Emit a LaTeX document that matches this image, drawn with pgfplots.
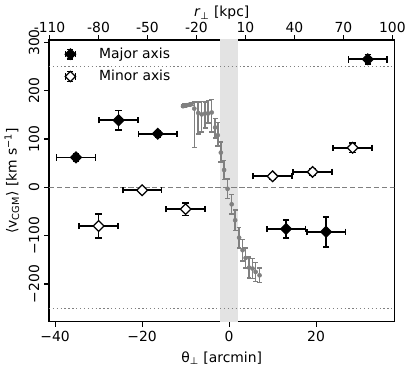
\documentclass[border=0pt]{standalone}
\usepackage{fontspec}
\setmainfont{DejaVu Sans}
\usepackage{pgfplots}
\usepackage{pgfplotstable}
\pgfplotsset{compat=1.18}

% major axis: x, y, xerr, yerr
\pgfplotstableread{
x      y     ex    ey
-35.2  62    4.45  8
-25.4  139   4.45  20
-16.4  111   4.45  7
13.1   -86   4.45  19
22.3   -92   4.45  31
31.9   265   4.45  10
}\major
% minor axis
\pgfplotstableread{
x      y     ex    ey
-30.0  -80   4.45  25
-20.0  -6    4.45  6
-10.0  -45   4.45  13
10.0   23    4.45  5
19.2   32    4.45  6
28.4   82    4.45  10
}\minor
% disc rotation curve: x, y, upper err, lower err
\pgfplotstableread{
x      y     ep   em
-10.6  168   3    3
-10.2  169   3    3
-9.7   170   3    3
-9.2   171   3    3
-8.7   172   3    3
-8.0   163   14   80
-7.1   154   23   44
-6.3   151   27   36
-5.5   153   24   30
-4.8   153   27   20
-4.0   155   27   40
-3.2   124   19   22
-2.6   108   26   22
-1.9   72    22   20
-1.15  36    20   20
-0.35  -3    20   20
0.6    -35   20   20
1.4    -68   21   21
2.3    -104  21   21
3.1    -130  22   22
3.8    -146  21   21
4.6    -166  22   22
5.4    -168  21   21
6.1    -175  20   20
7.0    -182  15   15
}\disc

\pgfplotsset{
  errhandle/.style={
    legend image code/.code={
      \draw[black, line width=1.1pt]
        (0pt,-3.5pt) -- (0pt,3.5pt)
        (-2.2pt,3.5pt) -- (2.2pt,3.5pt) (-2.2pt,-3.5pt) -- (2.2pt,-3.5pt)
        (-3.7pt,0pt) -- (3.7pt,0pt)
        (-3.7pt,-2.2pt) -- (-3.7pt,2.2pt) (3.7pt,-2.2pt) -- (3.7pt,2.2pt);
      \filldraw[fill=#1, draw=black, line width=0.9pt]
        (0pt,3.7pt) -- (3.7pt,0pt) -- (0pt,-3.7pt) -- (-3.7pt,0pt) -- cycle;
    }
  },
}

\begin{document}
\begin{tikzpicture}
\begin{axis}[
  name=main,
  scale only axis, width=248.6pt, height=202.8pt,
  xmin=-41.4, xmax=38.0, ymin=-278, ymax=305,
  xtick={-40,-20,0,20}, xticklabels={−40,−20,0,20},
  ytick={-200,-100,0,100,200,300}, yticklabels={−200,−100,0,100,200,300},
  xtick pos=bottom, ytick pos=left, tick align=outside,
  major tick length=3.5pt,
  every tick/.style={black, line width=0.8pt},
  axis line style={line width=0.8pt},
  ticklabel style={font=\fontsize{10}{12}\selectfont},
  yticklabel style={rotate=90, anchor=south},
  label style={font=\fontsize{10}{12}\selectfont},
  xlabel={θ\textsubscript{⊥} [arcmin]},
  ylabel={⟨v\textsubscript{CGM}⟩ [km s\textsuperscript{−1}]},
  clip=true,
  legend style={at={(axis description cs:0.044,0.983)}, anchor=north west,
    draw=none, fill=none, font=\fontsize{10}{12}\selectfont,
    row sep=3pt, inner sep=0pt, column sep=14.5pt},
  legend cell align=left,
  error bars/error bar style={line width=1.2pt, black},
  error bars/error mark options={rotate=90, line width=1.2pt, black, mark size=2.3pt},
]
% shaded band
\addplot[draw=none, fill=black!11, forget plot] coordinates {(-2,-300) (2,-300) (2,320) (-2,320)} -- cycle;
% reference lines
\addplot[color=gray, line width=1.1pt, dash pattern=on 3.8pt off 1.9pt, forget plot] coordinates {(-45,0) (45,0)};
\addplot[color=gray, line width=0.9pt, dash pattern=on 0.9pt off 1.9pt, forget plot] coordinates {(-45,250) (45,250)};
\addplot[color=gray, line width=0.9pt, dash pattern=on 0.9pt off 1.9pt, forget plot] coordinates {(-45,-250) (45,-250)};
% rotation curve
\addplot[only marks, color=gray, mark=*, mark size=1.45pt, forget plot,
  error bars/.cd, y dir=both, y explicit,
  error bar style={line width=1.1pt, gray},
  error mark options={rotate=90, line width=1.1pt, gray, mark size=1.7pt}]
  table[x=x, y=y, y error plus=ep, y error minus=em] {\disc};
% major axis
\addplot[only marks, mark=square*, mark size=2.7pt, errhandle=black,
  mark options={rotate=45, fill=black, draw=black, line width=0.9pt},
  error bars/.cd, x dir=both, x explicit, y dir=both, y explicit]
  table[x=x, y=y, x error=ex, y error=ey] {\major};
\addlegendentry{Major axis}
% minor axis
\addplot[only marks, mark=square*, mark size=2.7pt, errhandle=white,
  mark options={rotate=45, fill=white, draw=black, line width=0.9pt},
  error bars/.cd, x dir=both, x explicit, y dir=both, y explicit]
  table[x=x, y=y, x error=ex, y error=ey] {\minor};
\addlegendentry{Minor axis}
\end{axis}
\begin{axis}[
  at={(main.south west)}, anchor=south west,
  scale only axis, width=248.6pt, height=202.8pt,
  xmin=-110.3, xmax=101.2, ymin=0, ymax=1,
  xtick pos=top, xticklabel pos=top, ytick=\empty,
  hide y axis, axis line style={draw=none},
  xtick={-110,-80,-50,-20,10,40,70,100},
  xticklabels={-110,-80,-50,-20,10,40,70,100},
  tick align=outside, major tick length=3.5pt,
  every tick/.style={black, line width=0.8pt},
  ticklabel style={font=\fontsize{10}{12}\selectfont},
  xticklabel style={yshift=-2pt},
  label style={font=\fontsize{10}{12}\selectfont},
  xlabel={\textit{r}\textsubscript{⊥} [kpc]},
  x label style={at={(axis description cs:0.5,1)}, anchor=south, yshift=11pt},
]
\addplot[draw=none] coordinates {(0,0.5)};
\end{axis}
\pgfresetboundingbox
\path ([shift={(-35.3pt,-31.9pt)}]main.south west) rectangle ([shift={(9.1pt,28.8pt)}]main.north east);
\end{tikzpicture}
\end{document}
